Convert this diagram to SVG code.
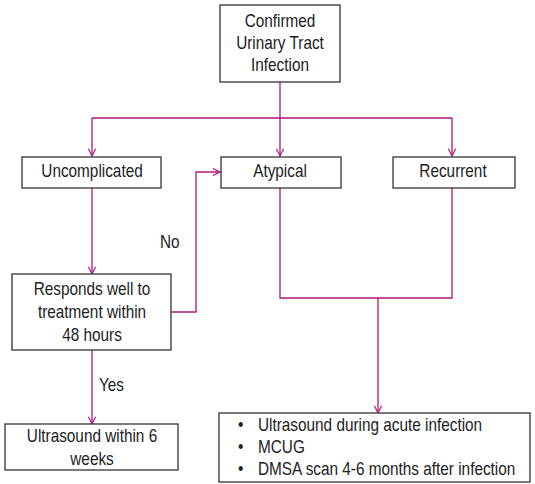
<svg xmlns="http://www.w3.org/2000/svg" width="535" height="484" viewBox="0 0 535 484">
  <defs>
    <marker id="arrow" viewBox="0 0 10 10" refX="9" refY="5" markerWidth="9" markerHeight="9" markerUnits="userSpaceOnUse" orient="auto">
      <polyline points="1,1 9,5 1,9" fill="none" stroke="#b0177c" stroke-width="1.3"/>
    </marker>
  </defs>
  <style>
    .box { fill: #ffffff; stroke: #333333; stroke-width: 1.3; }
    /* condensed sans: regular face squeezed horizontally */
    .t { font-family: "Liberation Sans", Arial, sans-serif; font-size: 18.7px; fill: #222222; }
    .c { text-anchor: middle; }
    .line { fill: none; stroke: #b0177c; stroke-width: 1.3; }
  </style>
  <rect width="535" height="484" fill="#ffffff"/>

  <g id="connectors">
    <polyline class="line" points="280,82 280,118"/>
    <polyline class="line" points="92,118 452,118"/>
    <line class="line" x1="92" y1="118" x2="92" y2="156" marker-end="url(#arrow)"/>
    <line class="line" x1="280" y1="118" x2="280" y2="156" marker-end="url(#arrow)"/>
    <line class="line" x1="452" y1="118" x2="452" y2="156" marker-end="url(#arrow)"/>
    <line class="line" x1="92" y1="188" x2="92" y2="274" marker-end="url(#arrow)"/>
    <polyline class="line" points="171,312 196,312 196,172 220,172" marker-end="url(#arrow)"/>
    <line class="line" x1="92" y1="350" x2="92" y2="424" marker-end="url(#arrow)"/>
    <polyline class="line" points="280,188 280,298 452,298 452,188"/>
    <line class="line" x1="378" y1="298" x2="378" y2="413" marker-end="url(#arrow)"/>
    <text class="t" transform="translate(160 248) scale(0.82 1)">No</text>
    <text class="t" transform="translate(99 391) scale(0.82 1)">Yes</text>
  </g>

  <g id="uti">
    <rect class="box" x="220" y="5" width="120" height="77"/>
    <text class="t c" transform="translate(280 27) scale(0.82 1)">Confirmed</text>
    <text class="t c" transform="translate(280 49) scale(0.82 1)">Urinary Tract</text>
    <text class="t c" transform="translate(280 71) scale(0.82 1)">Infection</text>
  </g>

  <g id="uncomplicated">
    <rect class="box" x="22" y="157" width="139" height="31"/>
    <text class="t c" transform="translate(92 176.5) scale(0.82 1)">Uncomplicated</text>
  </g>

  <g id="atypical">
    <rect class="box" x="221" y="157" width="120" height="31"/>
    <text class="t c" transform="translate(280 176.5) scale(0.82 1)">Atypical</text>
  </g>

  <g id="recurrent">
    <rect class="box" x="393" y="157" width="122" height="31"/>
    <text class="t c" transform="translate(453 176.5) scale(0.82 1)">Recurrent</text>
  </g>

  <g id="responds">
    <rect class="box" x="12" y="274" width="159" height="76"/>
    <text class="t c" transform="translate(92 295) scale(0.82 1)">Responds well to</text>
    <text class="t c" transform="translate(92 318) scale(0.82 1)">treatment within</text>
    <text class="t c" transform="translate(92 341) scale(0.82 1)">48 hours</text>
  </g>

  <g id="ultrasound-6-weeks">
    <rect class="box" x="5" y="424" width="173" height="46"/>
    <text class="t c" transform="translate(92 442) scale(0.82 1)">Ultrasound within 6</text>
    <text class="t c" transform="translate(92 465) scale(0.82 1)">weeks</text>
  </g>

  <g id="investigations">
    <rect class="box" x="219" y="413" width="311" height="69"/>
    <text class="t" transform="translate(238 431) scale(0.82 1)">•</text>
    <text class="t" transform="translate(258 431) scale(0.82 1)">Ultrasound during acute infection</text>
    <text class="t" transform="translate(238 453) scale(0.82 1)">•</text>
    <text class="t" transform="translate(258 453) scale(0.82 1)">MCUG</text>
    <text class="t" transform="translate(238 475) scale(0.82 1)">•</text>
    <text class="t" transform="translate(258 475) scale(0.82 1)">DMSA scan 4-6 months after infection</text>
  </g>
</svg>
